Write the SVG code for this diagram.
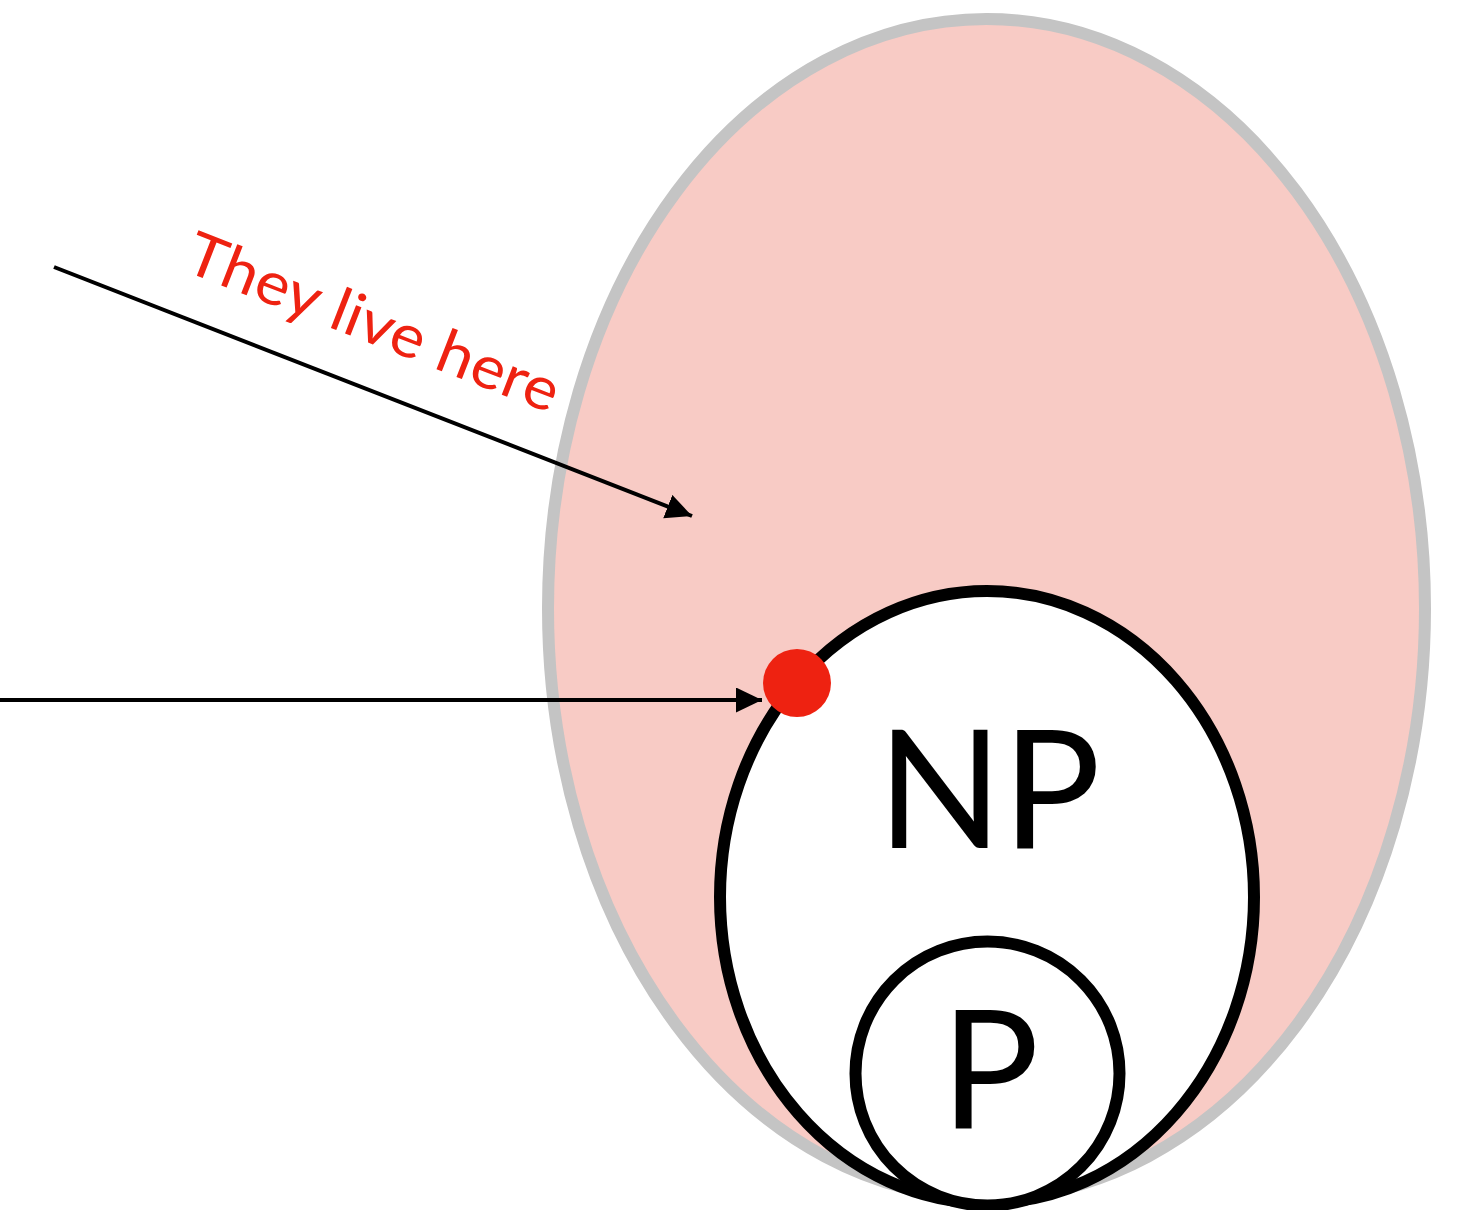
<svg xmlns="http://www.w3.org/2000/svg" width="1459" height="1210" viewBox="0 0 1459 1210">
<style>
.lbl{font-family:Lato,"Noto Sans","Liberation Sans",sans-serif;fill:#000;text-anchor:middle;font-size:164px}
.conn{stroke:#000;stroke-width:4;fill:none}
</style>
<defs>
<marker id="ah" markerUnits="userSpaceOnUse" markerWidth="27" markerHeight="26" refX="26" refY="12.5" orient="auto">
<path d="M0,0 L26,12.5 L0,25 z" fill="#000"/>
</marker>
</defs>
<rect width="1459" height="1210" fill="#fff"/>
<g id="region">
<ellipse cx="986.5" cy="608.5" rx="438.5" ry="589.5" fill="#f8cbc5" stroke="#c4c4c4" stroke-width="12"/>
</g>
<g id="np">
<ellipse cx="987" cy="897" rx="267" ry="306" fill="#fff" stroke="#000" stroke-width="12"/>
<text class="lbl" x="989" y="848">NP</text>
</g>
<g id="p">
<circle cx="987.5" cy="1073.5" r="132" fill="#fff" stroke="#000" stroke-width="12"/>
<text class="lbl" x="990" y="1128">P</text>
</g>
<g id="connectors">
<line class="conn" x1="54" y1="267" x2="692" y2="516" marker-end="url(#ah)"/>
<line class="conn" x1="0" y1="700" x2="762" y2="700" marker-end="url(#ah)"/>
</g>
<g id="label">
<text x="182" y="270" transform="rotate(21.3 182 270)" font-family="Lato,'Noto Sans','Liberation Sans',sans-serif" font-size="60" fill="#ee2211" textLength="395" lengthAdjust="spacingAndGlyphs">They live here</text>
</g>
<g id="dot">
<circle cx="797" cy="683" r="34" fill="#ee2211"/>
</g>
</svg>
